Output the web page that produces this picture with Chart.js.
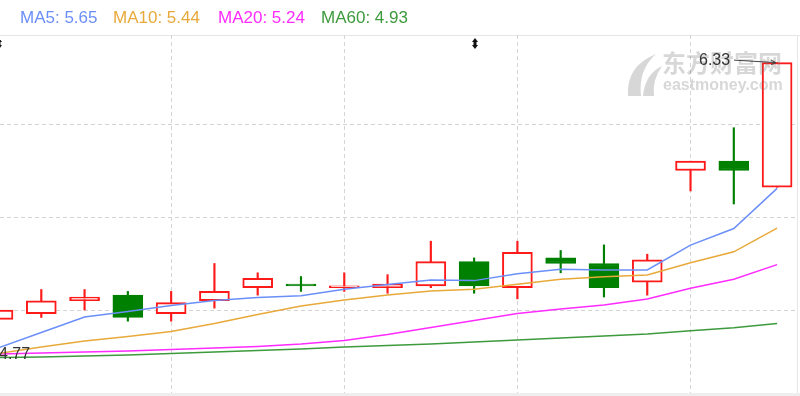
<!DOCTYPE html>
<html><head><meta charset="utf-8">
<script src="https://cdn.jsdelivr.net/npm/chart.js@4.4.1/dist/chart.umd.min.js"></script>
<style>html,body{margin:0;padding:0;background:#fff;overflow:hidden}canvas{display:block}</style>
</head><body>
<canvas id="c" width="800" height="396"></canvas>
<script>
// ---- data ----
const dayIndex = [0,1,2,3,4,5,6,7,8,9,10,11,12,13,14,15,16,17,18];
const openP  = [4.95,4.98,5.05,5.08,4.98,5.05,5.12,5.14,5.12,5.12,5.13,5.26,5.12,5.28,5.25,5.15,5.75,5.80,5.66];
const closeP = [5.00,5.05,5.07,4.96,5.04,5.10,5.17,5.13,5.13,5.14,5.26,5.13,5.31,5.25,5.12,5.27,5.80,5.75,6.33];
const highP  = [5.00,5.11,5.11,5.10,5.10,5.25,5.20,5.18,5.20,5.19,5.37,5.28,5.37,5.32,5.35,5.30,5.80,5.98,6.33];
const lowP   = [4.95,4.96,5.00,4.94,4.94,5.01,5.08,5.10,5.10,5.09,5.12,5.09,5.06,5.20,5.07,5.08,5.64,5.57,5.66];
const ma5  = [4.796,4.879,4.962,4.992,5.024,5.051,5.067,5.077,5.111,5.137,5.161,5.158,5.195,5.219,5.215,5.215,5.349,5.438,5.654];
const ma10 = [4.766,4.801,4.833,4.858,4.884,4.927,4.976,5.022,5.054,5.081,5.102,5.111,5.138,5.165,5.179,5.188,5.254,5.313,5.440];
const ma20 = [4.763,4.769,4.774,4.780,4.788,4.796,4.804,4.817,4.836,4.868,4.906,4.944,4.981,5.005,5.027,5.059,5.117,5.165,5.244];
const ma60 = [4.745,4.748,4.753,4.758,4.766,4.774,4.782,4.790,4.801,4.809,4.817,4.828,4.839,4.849,4.860,4.871,4.889,4.905,4.928];
const maNames = ['MA5','MA10','MA20','MA60'];
const highMark = 6.33;
const lowMark = 4.77;
const yGridValues = [5.0, 5.5, 6.0];
const xGridIndices = [4, 8, 12, 16];

// ---- styles ----
const RED = '#ff1a1a', GREEN = '#008000';
const maColors = ['#6b8ff8', '#e8a93a', '#ff2bff', '#3d9a3d'];
const maSeries = [ma5, ma10, ma20, ma60];
const up = closeP.map((c, i) => c >= openP[i]);

const bodies = dayIndex.map((d, i) => ({x: d, y: [openP[i], closeP[i]]}));
const wicks  = dayIndex.map((d, i) => ({x: d, y: [lowP[i], highP[i]]}));
const asLine = arr => dayIndex.map((d, i) => ({x: d, y: arr[i]}));

const lineSets = maSeries.map((arr, k) => ({
  type: 'line', label: maNames[k], data: asLine(arr),
  borderColor: maColors[k], borderWidth: 1.5, pointRadius: 0,
  tension: 0, order: 0, clip: 0, fill: false
}));

function drawArrowIcon(ctx, cx, top, bottom) {
  ctx.save();
  ctx.fillStyle = '#111';
  ctx.beginPath();
  ctx.moveTo(cx, top); ctx.lineTo(cx + 3, top + 4); ctx.lineTo(cx - 3, top + 4); ctx.closePath(); ctx.fill();
  ctx.beginPath();
  ctx.moveTo(cx, bottom); ctx.lineTo(cx + 3, bottom - 4); ctx.lineTo(cx - 3, bottom - 4); ctx.closePath(); ctx.fill();
  ctx.fillRect(cx - 1.5, top + 3, 3, bottom - top - 6);
  ctx.restore();
}

const decor = {
  id: 'decor',
  beforeDraw(chart) {
    const ctx = chart.ctx;
    ctx.save();
    ctx.fillStyle = '#fff';
    ctx.fillRect(0, 0, chart.width, chart.height);
    ctx.strokeStyle = '#e6e6e6';
    ctx.lineWidth = 1;
    ctx.beginPath(); ctx.moveTo(0, 35.5); ctx.lineTo(800, 35.5); ctx.stroke();
    ctx.beginPath(); ctx.moveTo(797.5, 35); ctx.lineTo(797.5, 396); ctx.stroke();
    ctx.fillStyle = '#eeeeee';
    ctx.fillRect(0, 393, 800, 3);
    ctx.restore();
  },
  afterDatasetsDraw(chart) {
    const ctx = chart.ctx;
    ctx.save();
    // watermark
    ctx.fillStyle = 'rgba(110,110,110,0.28)';
    ctx.beginPath();
    ctx.moveTo(628, 96); ctx.quadraticCurveTo(626, 66, 656, 54);
    ctx.quadraticCurveTo(638, 70, 641, 96); ctx.closePath(); ctx.fill();
    ctx.beginPath();
    ctx.moveTo(643, 96); ctx.quadraticCurveTo(645, 74, 662, 66);
    ctx.quadraticCurveTo(652, 80, 654, 96); ctx.closePath(); ctx.fill();
    ctx.font = 'bold 24px "Noto Sans CJK SC", sans-serif';
    ctx.textBaseline = 'middle';
    ctx.textAlign = 'left';
    ctx.fillText('东方财富网', 662, 63);
    ctx.font = 'bold 16px "Liberation Sans", Arial, sans-serif';
    ctx.textBaseline = 'alphabetic';
    ctx.fillText('eastmoney.com', 663, 90);
    ctx.restore();
  },
  afterDraw(chart) {
    const ctx = chart.ctx;
    const xs = chart.scales.x, ys = chart.scales.y;
    ctx.save();
    // legend
    ctx.font = '17px "Liberation Sans", Arial, sans-serif';
    ctx.textBaseline = 'alphabetic';
    const legX = [20, 113, 218, 321];
    maNames.forEach((n, k) => {
      ctx.fillStyle = maColors[k];
      const last = maSeries[k][maSeries[k].length - 1];
      ctx.fillText(n + ': ' + last.toFixed(2), legX[k], 23);
    });
    // high / low markers
    ctx.font = '16px "Liberation Sans", Arial, sans-serif';
    ctx.fillStyle = '#333';
    ctx.fillText(highMark.toFixed(2), 699, ys.getPixelForValue(highMark) + 2.5);
    const hiIdx = highP.indexOf(Math.max(...highP));
    const ex = xs.getPixelForValue(dayIndex[hiIdx]) - 1;
    const ey = ys.getPixelForValue(highMark);
    ctx.strokeStyle = '#444';
    ctx.lineWidth = 1;
    ctx.beginPath(); ctx.moveTo(734, ey - 2.5); ctx.lineTo(ex, ey); ctx.stroke();
    ctx.beginPath(); ctx.moveTo(ex - 5, ey - 2.5); ctx.lineTo(ex, ey); ctx.lineTo(ex - 5, ey + 2); ctx.stroke();
    ctx.fillText(lowMark.toFixed(2), -1, ys.getPixelForValue(lowMark) + 6);
    // drag icons
    drawArrowIcon(ctx, 475, 38, 49);
    drawArrowIcon(ctx, -1, 38, 49);
    ctx.restore();
  }
};

new Chart(document.getElementById('c'), {
  type: 'bar',
  data: {
    datasets: [
      ...lineSets,
      {
        type: 'bar', label: 'body', data: bodies,
        backgroundColor: up.map(u => u ? '#ffffff' : GREEN),
        borderColor: up.map(u => u ? RED : GREEN),
        borderWidth: 2, borderSkipped: false,
        barThickness: 30, grouped: false, minBarLength: 1,
        order: 5, clip: 0
      },
      {
        type: 'bar', label: 'wick', data: wicks,
        backgroundColor: up.map(u => u ? RED : GREEN),
        borderWidth: 0, barThickness: 1.5, grouped: false,
        order: 6, clip: 0
      }
    ]
  },
  options: {
    responsive: false, animation: false, devicePixelRatio: 1,
    layout: {padding: {left: 0, right: 3, top: 35, bottom: 3}},
    plugins: {legend: {display: false}, tooltip: {enabled: false}},
    scales: {
      x: {
        type: 'linear', min: 0.046, max: 18.46, offset: false,
        ticks: {display: false},
        grid: {color: '#d4d4d4', drawTicks: false, offset: false, lineWidth: 1},
        border: {display: false, dash: [4, 3]},
        afterBuildTicks: s => { s.ticks = xGridIndices.map(v => ({value: v})); }
      },
      y: {
        type: 'linear', min: 4.5538, max: 6.4785, beginAtZero: false,
        ticks: {display: false},
        grid: {color: '#d4d4d4', drawTicks: false, lineWidth: 1},
        border: {display: false, dash: [4, 3]},
        afterBuildTicks: s => { s.ticks = yGridValues.map(v => ({value: v})); }
      }
    }
  },
  plugins: [decor]
});
</script>
</body></html>
